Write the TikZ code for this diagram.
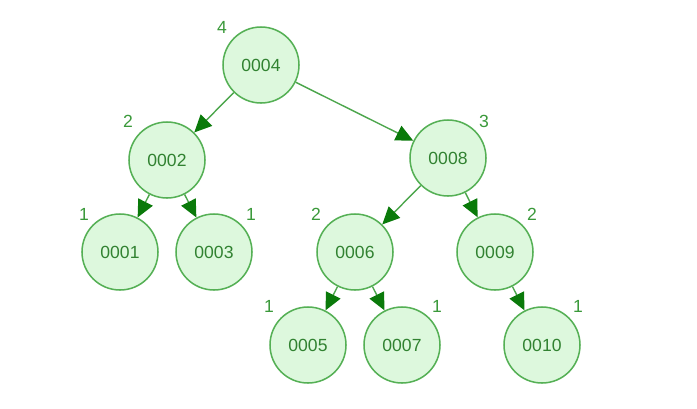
\documentclass[tikz,border=0pt]{standalone}
\usepackage{fontspec}
\setmainfont{Liberation Sans}
\usetikzlibrary{arrows.meta}
\definecolor{nfill}{HTML}{DDF8DD}
\definecolor{nline}{HTML}{55B055}
\definecolor{edgec}{HTML}{4CA64C}
\definecolor{tipc}{HTML}{0A7A0A}
\definecolor{labc}{HTML}{3A993A}
\begin{document}
\begin{tikzpicture}[x=0.03cm,y=-0.03cm,
  tnode/.style={circle,draw=nline,fill=nfill,line width=1.3pt,minimum size=2.28cm,inner sep=0pt,text=labc!85!black,font=\fontsize{15}{17}\selectfont},
  hlab/.style={text=labc,font=\fontsize{15}{17}\selectfont,inner sep=0pt},
  tedge/.style={draw=edgec,line width=1.2pt,-{Triangle[length=0.52cm,width=0.48cm,fill=tipc,color=tipc]}}]
\fill[white] (0,0) rectangle (697,408);
\useasboundingbox (0,0) rectangle (697,408);
\node[tnode] (n4) at (261,65) {0004};
\node[tnode] (n2) at (167,160) {0002};
\node[tnode] (n8) at (448,158) {0008};
\node[tnode] (n1) at (120,252) {0001};
\node[tnode] (n3) at (214,252) {0003};
\node[tnode] (n6) at (355,252) {0006};
\node[tnode] (n9) at (495,252) {0009};
\node[tnode] (n5) at (308,345) {0005};
\node[tnode] (n7) at (402,345) {0007};
\node[tnode] (n10) at (542,345) {0010};
\node[hlab] (h4) at (222,27) {4};
\node[hlab] (h2) at (128,121) {2};
\node[hlab] (h8) at (484,121) {3};
\node[hlab] (h1) at (84,214) {1};
\node[hlab] (h3) at (251,214) {1};
\node[hlab] (h6) at (316,214) {2};
\node[hlab] (h9) at (532,214) {2};
\node[hlab] (h5) at (269,306) {1};
\node[hlab] (h7) at (437,306) {1};
\node[hlab] (h10) at (578,306) {1};
\draw[tedge] (n4) -- (n2);
\draw[tedge] (n4) -- (n8);
\draw[tedge] (n2) -- (n1);
\draw[tedge] (n2) -- (n3);
\draw[tedge] (n8) -- (n6);
\draw[tedge] (n8) -- (n9);
\draw[tedge] (n6) -- (n5);
\draw[tedge] (n6) -- (n7);
\draw[tedge] (n9) -- (n10);
\end{tikzpicture}
\end{document}
